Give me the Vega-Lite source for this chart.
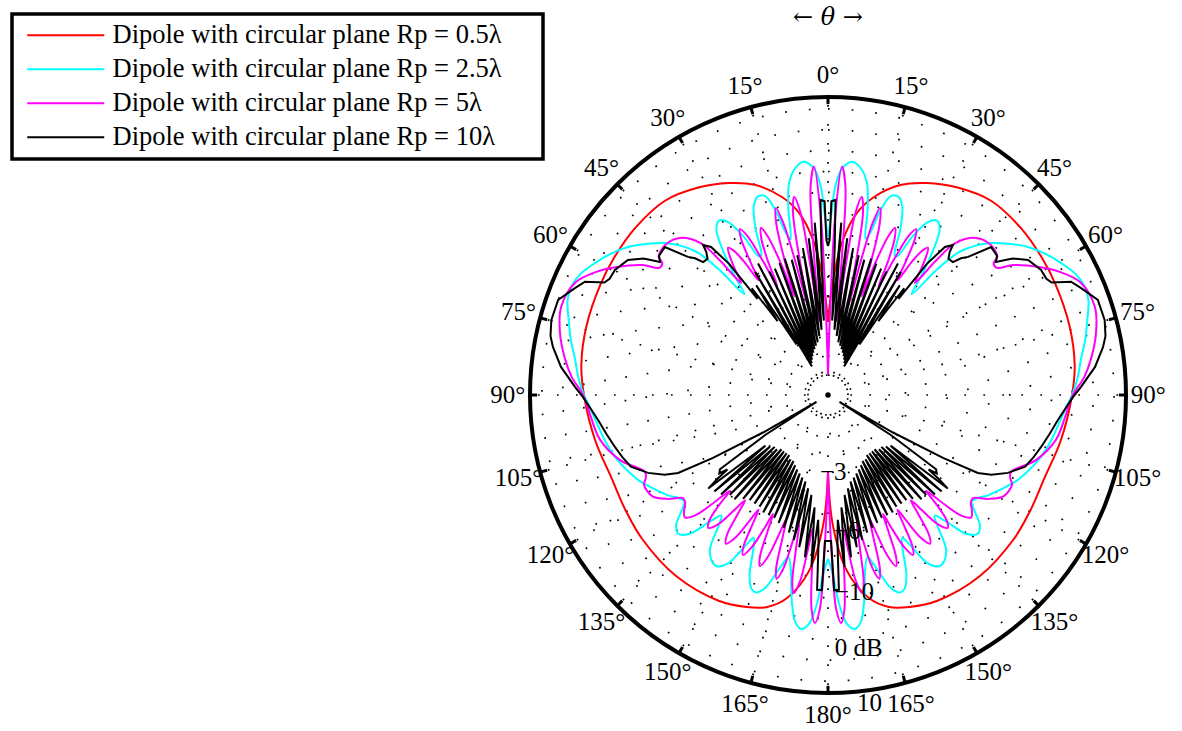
{
 "$schema": "https://vega.github.io/schema/vega-lite/v6.json",
 "width": 596, "height": 596,
 "autosize": {"type": "none"},
 "padding": {"left": 530, "top": 97, "right": 56, "bottom": 38},
 "background": "white",
 "config": {
  "view": {"stroke": null},
  "text": {"font": "Liberation Serif", "fontSize": 25, "color": "black"},
  "legend": {"orient": "none", "legendX": -518, "legendY": -83, "symbolType": "M -1 0 H 6", "symbolSize": 484, "symbolStrokeWidth": 2, "symbolOffset": 5, "labelFont": "Liberation Serif", "labelFontSize": 26.5, "labelColor": "black", "labelLimit": 0, "labelOffset": 61, "padding": 8, "strokeColor": "black", "fillColor": "white", "rowPadding": 7}
 },
 "datasets": {
  "curves": [
   {"s":"0.5λ","t":0,"r":0.245},{"s":"0.5λ","t":2.5,"r":0.386},{"s":"0.5λ","t":5.5,"r":0.523},{"s":"0.5λ","t":9,"r":0.618},{"s":"0.5λ","t":13,"r":0.681},{"s":"0.5λ","t":19,"r":0.745},{"s":"0.5λ","t":25,"r":0.785},{"s":"0.5λ","t":32,"r":0.821},{"s":"0.5λ","t":40,"r":0.851},{"s":"0.5λ","t":49,"r":0.856},{"s":"0.5λ","t":57,"r":0.853},{"s":"0.5λ","t":64,"r":0.849},{"s":"0.5λ","t":74,"r":0.843},{"s":"0.5λ","t":83,"r":0.834},{"s":"0.5λ","t":90,"r":0.819},{"s":"0.5λ","t":101,"r":0.796},{"s":"0.5λ","t":111,"r":0.778},{"s":"0.5λ","t":120,"r":0.782},{"s":"0.5λ","t":128,"r":0.789},{"s":"0.5λ","t":140,"r":0.793},{"s":"0.5λ","t":152,"r":0.782},{"s":"0.5λ","t":159,"r":0.762},{"s":"0.5λ","t":164,"r":0.74},{"s":"0.5λ","t":168.6,"r":0.695},{"s":"0.5λ","t":174,"r":0.59},{"s":"0.5λ","t":178,"r":0.43},{"s":"0.5λ","t":180,"r":0.258},

   {"s":"2.5λ","t":0,"r":0.53},{"s":"2.5λ","t":1,"r":0.6},{"s":"2.5λ","t":2,"r":0.7},{"s":"2.5λ","t":3.5,"r":0.76},{"s":"2.5λ","t":6,"r":0.787},{"s":"2.5λ","t":8.5,"r":0.765},{"s":"2.5λ","t":10.5,"r":0.72},{"s":"2.5λ","t":12,"r":0.64},{"s":"2.5λ","t":13.5,"r":0.54},{"s":"2.5λ","t":14.5,"r":0.56},{"s":"2.5λ","t":15.8,"r":0.64},{"s":"2.5λ","t":17.5,"r":0.7},{"s":"2.5λ","t":19.5,"r":0.706},{"s":"2.5λ","t":21.5,"r":0.68},{"s":"2.5λ","t":23.5,"r":0.61},{"s":"2.5λ","t":25.5,"r":0.52},{"s":"2.5λ","t":26.5,"r":0.52},{"s":"2.5λ","t":28,"r":0.6},{"s":"2.5λ","t":30,"r":0.67},{"s":"2.5λ","t":32,"r":0.69},{"s":"2.5λ","t":34,"r":0.67},{"s":"2.5λ","t":36,"r":0.6},{"s":"2.5λ","t":38,"r":0.51},{"s":"2.5λ","t":39.7,"r":0.44},{"s":"2.5λ","t":41,"r":0.56},{"s":"2.5λ","t":42.5,"r":0.65},{"s":"2.5λ","t":45,"r":0.712},{"s":"2.5λ","t":47,"r":0.748},{"s":"2.5λ","t":50,"r":0.79},{"s":"2.5λ","t":53.5,"r":0.835},{"s":"2.5λ","t":57,"r":0.87},{"s":"2.5λ","t":60.5,"r":0.899},{"s":"2.5λ","t":64,"r":0.925},{"s":"2.5λ","t":67,"r":0.935},{"s":"2.5λ","t":70,"r":0.93},{"s":"2.5λ","t":74,"r":0.905},{"s":"2.5λ","t":78,"r":0.882},{"s":"2.5λ","t":82,"r":0.857},{"s":"2.5λ","t":86,"r":0.84},{"s":"2.5λ","t":89.5,"r":0.822},{"s":"2.5λ","t":93,"r":0.8},{"s":"2.5λ","t":97,"r":0.781},{"s":"2.5λ","t":100.5,"r":0.768},{"s":"2.5λ","t":104,"r":0.754},{"s":"2.5λ","t":108,"r":0.735},{"s":"2.5λ","t":111.5,"r":0.714},{"s":"2.5λ","t":114.5,"r":0.695},{"s":"2.5λ","t":117.3,"r":0.672},{"s":"2.5λ","t":120,"r":0.65},{"s":"2.5λ","t":122.5,"r":0.63},{"s":"2.5λ","t":124.5,"r":0.61},{"s":"2.5λ","t":126.5,"r":0.6},{"s":"2.5λ","t":128.5,"r":0.63},{"s":"2.5λ","t":130.5,"r":0.67},{"s":"2.5λ","t":132.7,"r":0.685},{"s":"2.5λ","t":135,"r":0.66},{"s":"2.5λ","t":137,"r":0.58},{"s":"2.5λ","t":138.5,"r":0.54},{"s":"2.5λ","t":140,"r":0.57},{"s":"2.5λ","t":142.5,"r":0.65},{"s":"2.5λ","t":145,"r":0.68},{"s":"2.5λ","t":147,"r":0.685},{"s":"2.5λ","t":149.2,"r":0.66},{"s":"2.5λ","t":151.2,"r":0.58},{"s":"2.5λ","t":152.5,"r":0.54},{"s":"2.5λ","t":154,"r":0.57},{"s":"2.5λ","t":156.5,"r":0.66},{"s":"2.5λ","t":158.5,"r":0.7},{"s":"2.5λ","t":160,"r":0.705},{"s":"2.5λ","t":162,"r":0.68},{"s":"2.5λ","t":164.5,"r":0.6},{"s":"2.5λ","t":166.3,"r":0.56},{"s":"2.5λ","t":168,"r":0.6},{"s":"2.5λ","t":170,"r":0.7},{"s":"2.5λ","t":171.8,"r":0.77},{"s":"2.5λ","t":173.5,"r":0.79},{"s":"2.5λ","t":175.3,"r":0.77},{"s":"2.5λ","t":177,"r":0.7},{"s":"2.5λ","t":178.5,"r":0.6},{"s":"2.5λ","t":180,"r":0.55},

   {"s":"5λ","t":0,"r":0.07},{"s":"5λ","t":1.5,"r":0.3},{"s":"5λ","t":2.3,"r":0.6},{"s":"5λ","t":3.5,"r":0.767},{"s":"5λ","t":4.8,"r":0.7},{"s":"5λ","t":5.8,"r":0.45},{"s":"5λ","t":6.8,"r":0.25},{"s":"5λ","t":7.8,"r":0.45},{"s":"5λ","t":8.6,"r":0.62},{"s":"5λ","t":9.7,"r":0.674},{"s":"5λ","t":10.9,"r":0.62},{"s":"5λ","t":11.9,"r":0.45},{"s":"5λ","t":12.8,"r":0.3},{"s":"5λ","t":13.7,"r":0.45},{"s":"5λ","t":14.6,"r":0.6},{"s":"5λ","t":15.6,"r":0.651},{"s":"5λ","t":16.8,"r":0.6},{"s":"5λ","t":17.9,"r":0.47},{"s":"5λ","t":18.8,"r":0.35},{"s":"5λ","t":19.7,"r":0.47},{"s":"5λ","t":20.8,"r":0.57},{"s":"5λ","t":21.9,"r":0.604},{"s":"5λ","t":23.1,"r":0.57},{"s":"5λ","t":24.1,"r":0.5},{"s":"5λ","t":25,"r":0.4},{"s":"5λ","t":25.9,"r":0.5},{"s":"5λ","t":26.9,"r":0.6},{"s":"5λ","t":28,"r":0.63},{"s":"5λ","t":29.1,"r":0.6},{"s":"5λ","t":30.2,"r":0.52},{"s":"5λ","t":31.2,"r":0.45},{"s":"5λ","t":32.2,"r":0.53},{"s":"5λ","t":33.2,"r":0.58},{"s":"5λ","t":34.2,"r":0.597},{"s":"5λ","t":35.3,"r":0.57},{"s":"5λ","t":36.6,"r":0.52},{"s":"5λ","t":37.8,"r":0.476},{"s":"5λ","t":38.8,"r":0.58},{"s":"5λ","t":40,"r":0.665},{"s":"5λ","t":43.3,"r":0.724},{"s":"5λ","t":47.4,"r":0.743},{"s":"5λ","t":50.8,"r":0.733},{"s":"5λ","t":51.5,"r":0.71},{"s":"5λ","t":53,"r":0.709},{"s":"5λ","t":55,"r":0.76},{"s":"5λ","t":59,"r":0.832},{"s":"5λ","t":62,"r":0.88},{"s":"5λ","t":66,"r":0.928},{"s":"5λ","t":71.8,"r":0.943},{"s":"5λ","t":77,"r":0.923},{"s":"5λ","t":82,"r":0.892},{"s":"5λ","t":86,"r":0.862},{"s":"5λ","t":90,"r":0.822},{"s":"5λ","t":95,"r":0.8},{"s":"5λ","t":101,"r":0.78},{"s":"5λ","t":107.4,"r":0.731},{"s":"5λ","t":112.8,"r":0.666},{"s":"5λ","t":114.5,"r":0.672},{"s":"5λ","t":116,"r":0.687},{"s":"5λ","t":120,"r":0.68},{"s":"5λ","t":123,"r":0.64},{"s":"5λ","t":125.4,"r":0.597},{"s":"5λ","t":127,"r":0.6},{"s":"5λ","t":128.8,"r":0.62},{"s":"5λ","t":130.5,"r":0.632},{"s":"5λ","t":132.2,"r":0.6},{"s":"5λ","t":133.4,"r":0.52},{"s":"5λ","t":134.3,"r":0.46},{"s":"5λ","t":135.3,"r":0.52},{"s":"5λ","t":136.6,"r":0.58},{"s":"5λ","t":138,"r":0.6},{"s":"5λ","t":139.6,"r":0.57},{"s":"5λ","t":140.8,"r":0.5},{"s":"5λ","t":141.8,"r":0.45},{"s":"5λ","t":142.8,"r":0.5},{"s":"5λ","t":144.2,"r":0.58},{"s":"5λ","t":145.5,"r":0.605},{"s":"5λ","t":147,"r":0.57},{"s":"5λ","t":148,"r":0.5},{"s":"5λ","t":148.8,"r":0.45},{"s":"5λ","t":149.7,"r":0.5},{"s":"5λ","t":150.8,"r":0.58},{"s":"5λ","t":152,"r":0.608},{"s":"5λ","t":153.4,"r":0.57},{"s":"5λ","t":154.4,"r":0.5},{"s":"5λ","t":155.2,"r":0.44},{"s":"5λ","t":156.1,"r":0.5},{"s":"5λ","t":157.2,"r":0.59},{"s":"5λ","t":158.3,"r":0.618},{"s":"5λ","t":159.6,"r":0.58},{"s":"5λ","t":160.6,"r":0.5},{"s":"5λ","t":161.4,"r":0.44},{"s":"5λ","t":162.3,"r":0.5},{"s":"5λ","t":163.4,"r":0.61},{"s":"5λ","t":164.4,"r":0.64},{"s":"5λ","t":165.6,"r":0.6},{"s":"5λ","t":166.5,"r":0.5},{"s":"5λ","t":167.3,"r":0.44},{"s":"5λ","t":168.2,"r":0.52},{"s":"5λ","t":169.2,"r":0.64},{"s":"5λ","t":170.2,"r":0.675},{"s":"5λ","t":171.5,"r":0.63},{"s":"5λ","t":172.6,"r":0.52},{"s":"5λ","t":173.5,"r":0.45},{"s":"5λ","t":174.5,"r":0.55},{"s":"5λ","t":175.6,"r":0.72},{"s":"5λ","t":176.7,"r":0.766},{"s":"5λ","t":177.8,"r":0.72},{"s":"5λ","t":178.8,"r":0.5},{"s":"5λ","t":179.5,"r":0.35},{"s":"5λ","t":180,"r":0.26},

   {"s":"10λ","t":0,"r":0.5},{"s":"10λ","t":0.6,"r":0.52},{"s":"10λ","t":1,"r":0.65},{"s":"10λ","t":2.2,"r":0.655},{"s":"10λ","t":2.6,"r":0.5},{"s":"10λ","t":3.2,"r":0.25},{"s":"10λ","t":4.4,"r":0.58},{"s":"10λ","t":5.6,"r":0.22},{"s":"10λ","t":7,"r":0.53},{"s":"10λ","t":8.3,"r":0.2},{"s":"10λ","t":9.7,"r":0.5},{"s":"10λ","t":11,"r":0.18},{"s":"10λ","t":12.4,"r":0.48},{"s":"10λ","t":13.7,"r":0.17},{"s":"10λ","t":15,"r":0.47},{"s":"10λ","t":16.3,"r":0.16},{"s":"10λ","t":17.6,"r":0.48},{"s":"10λ","t":18.9,"r":0.15},{"s":"10λ","t":20.2,"r":0.47},{"s":"10λ","t":21.5,"r":0.14},{"s":"10λ","t":22.8,"r":0.46},{"s":"10λ","t":24.1,"r":0.13},{"s":"10λ","t":25.4,"r":0.46},{"s":"10λ","t":26.7,"r":0.12},{"s":"10λ","t":28,"r":0.5},{"s":"10λ","t":29.3,"r":0.11},{"s":"10λ","t":30.6,"r":0.48},{"s":"10λ","t":31.9,"r":0.2},{"s":"10λ","t":33.2,"r":0.44},{"s":"10λ","t":34.3,"r":0.3},{"s":"10λ","t":35.5,"r":0.44},{"s":"10λ","t":36.3,"r":0.4},{"s":"10λ","t":37,"r":0.55},{"s":"10λ","t":38.3,"r":0.633},{"s":"10λ","t":39.8,"r":0.655},{"s":"10λ","t":40.4,"r":0.63},{"s":"10λ","t":41.5,"r":0.61},{"s":"10λ","t":43.2,"r":0.612},{"s":"10λ","t":44.2,"r":0.64},{"s":"10λ","t":45.4,"r":0.66},{"s":"10λ","t":47.8,"r":0.739},{"s":"10λ","t":50.5,"r":0.735},{"s":"10λ","t":51.6,"r":0.719},{"s":"10λ","t":53.5,"r":0.77},{"s":"10λ","t":56,"r":0.81},{"s":"10λ","t":59.6,"r":0.829},{"s":"10λ","t":62,"r":0.83},{"s":"10λ","t":63.3,"r":0.84},{"s":"10λ","t":65,"r":0.9},{"s":"10λ","t":67.1,"r":0.922},{"s":"10λ","t":70.6,"r":0.96},{"s":"10λ","t":74.8,"r":0.962},{"s":"10λ","t":78,"r":0.952},{"s":"10λ","t":80.1,"r":0.937},{"s":"10λ","t":84,"r":0.901},{"s":"10λ","t":88.2,"r":0.849},{"s":"10λ","t":90.5,"r":0.822},{"s":"10λ","t":96.2,"r":0.776},{"s":"10λ","t":100,"r":0.755},{"s":"10λ","t":103.7,"r":0.736},{"s":"10λ","t":107,"r":0.72},{"s":"10λ","t":110,"r":0.704},{"s":"10λ","t":113.4,"r":0.658},{"s":"10λ","t":116,"r":0.61},{"s":"10λ","t":117.5,"r":0.567},{"s":"10λ","t":118.7,"r":0.44},{"s":"10λ","t":120,"r":0.25},{"s":"10λ","t":121,"r":0.045},{"s":"10λ","t":122.5,"r":0.25},{"s":"10λ","t":124.5,"r":0.44},{"s":"10λ","t":125.8,"r":0.45},{"s":"10λ","t":126.5,"r":0.42},{"s":"10λ","t":127.2,"r":0.47},{"s":"10λ","t":128,"r":0.51},{"s":"10λ","t":129,"r":0.27},{"s":"10λ","t":130.3,"r":0.5},{"s":"10λ","t":131.6,"r":0.26},{"s":"10λ","t":132.9,"r":0.49},{"s":"10λ","t":134.2,"r":0.25},{"s":"10λ","t":135.5,"r":0.47},{"s":"10λ","t":136.8,"r":0.25},{"s":"10λ","t":138.1,"r":0.47},{"s":"10λ","t":139.4,"r":0.24},{"s":"10λ","t":140.7,"r":0.45},{"s":"10λ","t":142,"r":0.24},{"s":"10λ","t":143.3,"r":0.44},{"s":"10λ","t":144.6,"r":0.24},{"s":"10λ","t":145.9,"r":0.44},{"s":"10λ","t":147.2,"r":0.24},{"s":"10λ","t":148.5,"r":0.44},{"s":"10λ","t":149.8,"r":0.25},{"s":"10λ","t":151.1,"r":0.45},{"s":"10λ","t":152.4,"r":0.25},{"s":"10λ","t":153.7,"r":0.45},{"s":"10λ","t":155,"r":0.26},{"s":"10λ","t":156.3,"r":0.45},{"s":"10λ","t":157.6,"r":0.27},{"s":"10λ","t":158.9,"r":0.46},{"s":"10λ","t":160.2,"r":0.28},{"s":"10λ","t":161.5,"r":0.47},{"s":"10λ","t":162.8,"r":0.29},{"s":"10λ","t":164.1,"r":0.48},{"s":"10λ","t":165.4,"r":0.3},{"s":"10λ","t":166.7,"r":0.5},{"s":"10λ","t":168,"r":0.32},{"s":"10λ","t":169.3,"r":0.52},{"s":"10λ","t":170.6,"r":0.34},{"s":"10λ","t":171.9,"r":0.55},{"s":"10λ","t":173.2,"r":0.38},{"s":"10λ","t":174.5,"r":0.58},{"s":"10λ","t":175.5,"r":0.42},{"s":"10λ","t":176.3,"r":0.49},{"s":"10λ","t":176.8,"r":0.655},{"s":"10λ","t":178.2,"r":0.655},{"s":"10λ","t":178.8,"r":0.49},{"s":"10λ","t":180,"r":0.49}
  ],
  "spokes": [{"t":0},{"t":15},{"t":30},{"t":45},{"t":60},{"t":75},{"t":90},{"t":105},{"t":120},{"t":135},{"t":150},{"t":165},{"t":180},{"t":195},{"t":210},{"t":225},{"t":240},{"t":255},{"t":270},{"t":285},{"t":300},{"t":315},{"t":330},{"t":345}]
 },
 "layer": [
  {
   "data": {"values": [{"r":0.13},{"r":0.195},{"r":0.26},{"r":0.33},{"r":0.4},{"r":0.47},{"r":0.54},{"r":0.61},{"r":0.68},{"r":0.75},{"r":0.82},{"r":0.89},{"r":0.96}]},
   "mark": {"type": "arc", "theta": 0, "theta2": 6.2832, "fillOpacity": 0, "stroke": "black", "strokeWidth": 1.7, "strokeDash": [1.7, 22]},
   "encoding": {"radius": {"field": "r", "type": "quantitative", "stack": null, "scale": {"type": "linear", "domain": [0, 1], "range": [0, 298], "zero": true}}}
  },
  {
   "data": {"values": [{"r":0.067}]},
   "mark": {"type": "arc", "theta": 0, "theta2": 6.2832, "fillOpacity": 0, "stroke": "black", "strokeWidth": 1.7, "strokeDash": [1.7, 3.2]},
   "encoding": {"radius": {"field": "r", "type": "quantitative", "stack": null, "scale": {"type": "linear", "domain": [0, 1], "range": [0, 298], "zero": true}}}
  },
  {
   "data": {"name": "spokes"},
   "transform": [
    {"calculate": "0.075*sin(datum.t*PI/180)", "as": "x"},
    {"calculate": "0.075*cos(datum.t*PI/180)", "as": "y"},
    {"calculate": "sin(datum.t*PI/180)", "as": "x2"},
    {"calculate": "cos(datum.t*PI/180)", "as": "y2"}
   ],
   "mark": {"type": "rule", "color": "black", "strokeWidth": 1.7, "strokeDash": [1.7, 17.3]},
   "encoding": {
    "x": {"field": "x", "type": "quantitative", "scale": {"domain": [-1, 1], "nice": false, "zero": false}, "axis": null},
    "y": {"field": "y", "type": "quantitative", "scale": {"domain": [-1, 1], "nice": false, "zero": false}, "axis": null},
    "x2": {"field": "x2"}, "y2": {"field": "y2"}
   }
  },
  {
   "data": {"name": "spokes"},
   "transform": [
    {"calculate": "0.976*sin(datum.t*PI/180)", "as": "x"},
    {"calculate": "0.976*cos(datum.t*PI/180)", "as": "y"},
    {"calculate": "sin(datum.t*PI/180)", "as": "x2"},
    {"calculate": "cos(datum.t*PI/180)", "as": "y2"}
   ],
   "mark": {"type": "rule", "color": "black", "strokeWidth": 3},
   "encoding": {
    "x": {"field": "x", "type": "quantitative", "scale": {"domain": [-1, 1], "nice": false, "zero": false}, "axis": null},
    "y": {"field": "y", "type": "quantitative", "scale": {"domain": [-1, 1], "nice": false, "zero": false}, "axis": null},
    "x2": {"field": "x2"}, "y2": {"field": "y2"}
   }
  },
  {
   "data": {"values": [{"r":1}]},
   "mark": {"type": "arc", "theta": 0, "theta2": 6.2832, "fillOpacity": 0, "stroke": "black", "strokeWidth": 4},
   "encoding": {"radius": {"field": "r", "type": "quantitative", "stack": null, "scale": {"type": "linear", "domain": [0, 1], "range": [0, 298], "zero": true}}}
  },
  {
   "data": {"values": [{"x":0,"y":0}]},
   "mark": {"type": "point", "filled": true, "color": "black", "size": 30, "opacity": 1},
   "encoding": {
    "x": {"field": "x", "type": "quantitative", "scale": {"domain": [-1, 1], "nice": false, "zero": false}, "axis": null},
    "y": {"field": "y", "type": "quantitative", "scale": {"domain": [-1, 1], "nice": false, "zero": false}, "axis": null}
   }
  },
  {
   "data": {"name": "curves"},
   "transform": [
    {"filter": "datum.s !== '10λ'"},
    {"calculate": "datum.r*sin(datum.t*PI/180)", "as": "x"},
    {"calculate": "datum.r*cos(datum.t*PI/180)", "as": "y"}
   ],
   "mark": {"type": "line", "interpolate": "catmull-rom", "strokeWidth": 2},
   "encoding": {
    "x": {"field": "x", "type": "quantitative", "scale": {"domain": [-1, 1], "nice": false, "zero": false}, "axis": null},
    "y": {"field": "y", "type": "quantitative", "scale": {"domain": [-1, 1], "nice": false, "zero": false}, "axis": null},
    "order": {"field": "t", "type": "quantitative"},
    "color": {"field": "s", "type": "nominal", "scale": {"domain": ["0.5λ", "2.5λ", "5λ", "10λ"], "range": ["#ff0000", "#00ffff", "#ff00ff", "#000000"]}, "legend": {"title": null, "labelExpr": "'Dipole with circular plane Rp = ' + datum.label + '\u00a0\u00a0\u2800'", "encode": {"legend": {"update": {"strokeWidth": {"value": 3.5}}}}}}
   }
  },
  {
   "data": {"name": "curves"},
   "transform": [
    {"filter": "datum.s !== '10λ'"},
    {"calculate": "-datum.r*sin(datum.t*PI/180)", "as": "x"},
    {"calculate": "datum.r*cos(datum.t*PI/180)", "as": "y"}
   ],
   "mark": {"type": "line", "interpolate": "catmull-rom", "strokeWidth": 2},
   "encoding": {
    "x": {"field": "x", "type": "quantitative", "scale": {"domain": [-1, 1], "nice": false, "zero": false}, "axis": null},
    "y": {"field": "y", "type": "quantitative", "scale": {"domain": [-1, 1], "nice": false, "zero": false}, "axis": null},
    "order": {"field": "t", "type": "quantitative"},
    "color": {"field": "s", "type": "nominal", "scale": {"domain": ["0.5λ", "2.5λ", "5λ", "10λ"], "range": ["#ff0000", "#00ffff", "#ff00ff", "#000000"]}, "legend": {"title": null, "labelExpr": "'Dipole with circular plane Rp = ' + datum.label + '\u00a0\u00a0\u2800'", "encode": {"legend": {"update": {"strokeWidth": {"value": 3.5}}}}}}
   }
  },
  {
   "data": {"name": "curves"},
   "transform": [
    {"filter": "datum.s === '10λ'"},
    {"calculate": "datum.r*sin(datum.t*PI/180)", "as": "x"},
    {"calculate": "datum.r*cos(datum.t*PI/180)", "as": "y"}
   ],
   "mark": {"type": "line", "strokeWidth": 2},
   "encoding": {
    "x": {"field": "x", "type": "quantitative", "scale": {"domain": [-1, 1], "nice": false, "zero": false}, "axis": null},
    "y": {"field": "y", "type": "quantitative", "scale": {"domain": [-1, 1], "nice": false, "zero": false}, "axis": null},
    "order": {"field": "t", "type": "quantitative"},
    "color": {"field": "s", "type": "nominal", "scale": {"domain": ["0.5λ", "2.5λ", "5λ", "10λ"], "range": ["#ff0000", "#00ffff", "#ff00ff", "#000000"]}, "legend": {"title": null, "labelExpr": "'Dipole with circular plane Rp = ' + datum.label + '\u00a0\u00a0\u2800'", "encode": {"legend": {"update": {"strokeWidth": {"value": 3.5}}}}}}
   }
  },
  {
   "data": {"name": "curves"},
   "transform": [
    {"filter": "datum.s === '10λ'"},
    {"calculate": "-datum.r*sin(datum.t*PI/180)", "as": "x"},
    {"calculate": "datum.r*cos(datum.t*PI/180)", "as": "y"}
   ],
   "mark": {"type": "line", "strokeWidth": 2},
   "encoding": {
    "x": {"field": "x", "type": "quantitative", "scale": {"domain": [-1, 1], "nice": false, "zero": false}, "axis": null},
    "y": {"field": "y", "type": "quantitative", "scale": {"domain": [-1, 1], "nice": false, "zero": false}, "axis": null},
    "order": {"field": "t", "type": "quantitative"},
    "color": {"field": "s", "type": "nominal", "scale": {"domain": ["0.5λ", "2.5λ", "5λ", "10λ"], "range": ["#ff0000", "#00ffff", "#ff00ff", "#000000"]}, "legend": {"title": null, "labelExpr": "'Dipole with circular plane Rp = ' + datum.label + '\u00a0\u00a0\u2800'", "encode": {"legend": {"update": {"strokeWidth": {"value": 3.5}}}}}}
   }
  },
  {
   "data": {"values": [
    {"t":0,"lab":"0°"},{"t":15,"lab":"15°"},{"t":30,"lab":"30°"},{"t":45,"lab":"45°"},{"t":60,"lab":"60°"},{"t":75,"lab":"75°"},{"t":90,"lab":"90°"},{"t":105,"lab":"105°"},{"t":120,"lab":"120°"},{"t":135,"lab":"135°"},{"t":150,"lab":"150°"},{"t":165,"lab":"165°"},{"t":180,"lab":"180°"},
    {"t":-15,"lab":"15°"},{"t":-30,"lab":"30°"},{"t":-45,"lab":"45°"},{"t":-60,"lab":"60°"},{"t":-75,"lab":"75°"},{"t":-90,"lab":"90°"},{"t":-105,"lab":"105°"},{"t":-120,"lab":"120°"},{"t":-135,"lab":"135°"},{"t":-150,"lab":"150°"},{"t":-165,"lab":"165°"}
   ]},
   "transform": [
    {"calculate": "1.075*sin(datum.t*PI/180)", "as": "x"},
    {"calculate": "1.075*cos(datum.t*PI/180)", "as": "y"}
   ],
   "mark": {"type": "text", "align": "center", "baseline": "middle", "font": "Liberation Serif", "fontSize": 25},
   "encoding": {
    "x": {"field": "x", "type": "quantitative", "scale": {"domain": [-1, 1], "nice": false, "zero": false}, "axis": null},
    "y": {"field": "y", "type": "quantitative", "scale": {"domain": [-1, 1], "nice": false, "zero": false}, "axis": null},
    "text": {"field": "lab"}
   }
  },
  {
   "data": {"values": [
    {"lab":"−3","x":-0.027,"y":-0.258},{"lab":"−6","x":0.02,"y":-0.455},{"lab":"−10","x":0.023,"y":-0.661},{"lab":"0 dB","x":0.023,"y":-0.849},{"lab":"10","x":0.097,"y":-1.034}
   ]},
   "mark": {"type": "text", "align": "left", "baseline": "middle", "font": "Liberation Serif", "fontSize": 25},
   "encoding": {
    "x": {"field": "x", "type": "quantitative", "scale": {"domain": [-1, 1], "nice": false, "zero": false}, "axis": null},
    "y": {"field": "y", "type": "quantitative", "scale": {"domain": [-1, 1], "nice": false, "zero": false}, "axis": null},
    "text": {"field": "lab"}
   }
  },
  {
   "data": {"values": [{"lab":"←  θ  →"}]},
   "mark": {"type": "text", "align": "center", "baseline": "middle", "font": "DejaVu Serif", "fontStyle": "italic", "fontSize": 24},
   "encoding": {
    "x": {"datum": 0, "type": "quantitative", "scale": {"domain": [-1, 1], "nice": false, "zero": false}, "axis": null},
    "y": {"datum": 1.265, "type": "quantitative", "scale": {"domain": [-1, 1], "nice": false, "zero": false}, "axis": null},
    "text": {"field": "lab"}
   }
  }
 ]
}
